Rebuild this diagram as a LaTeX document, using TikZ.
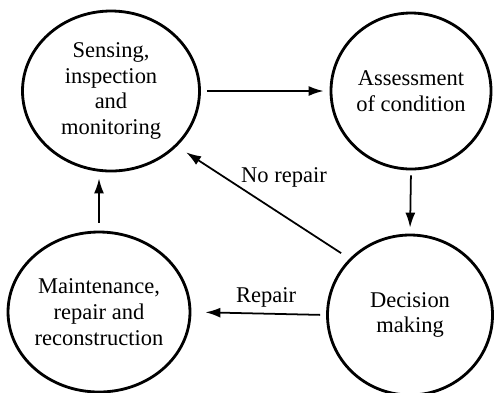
\documentclass[tikz,border=0pt]{standalone}
\usepackage{fontspec}
\setmainfont{Liberation Serif}
\usetikzlibrary{positioning,shapes.geometric,arrows.meta}

\begin{document}
\begin{tikzpicture}[
  x=1cm, y=1cm,
  every node/.style={font=\fontsize{12.8}{14.6}\selectfont},
  etat/.style={draw, ellipse, line width=1.6pt, inner sep=0pt, align=center},
  lbl/.style={font=\fontsize{12.8}{14.6}\selectfont},
  fl/.style={-{Latex[length=0.3cm,width=0.2cm]}, line width=1pt}
]
\useasboundingbox (0,0) rectangle (9.88,-7.84);

\node[etat, minimum width=3.54cm, minimum height=3.2cm] (sense)  at (2.22,-1.82) {Sensing,\\inspection\\and\\monitoring};
\node[etat, minimum width=3.2cm,  minimum height=3.12cm] (assess) at (8.22,-1.82) {Assessment\\of condition};
\node[etat, minimum width=3.3cm,  minimum height=3.2cm] (decide) at (8.2,-6.3)   {Decision\\making};
\node[etat, minimum width=3.36cm, minimum height=3.2cm] (maint)  at (1.98,-6.24) {Maintenance,\\repair and\\reconstruction};

\draw[fl, shorten <=0.12cm, shorten >=0.12cm] (sense.east) -- (assess.west);
\draw[fl, shorten <=0.1cm, shorten >=0.12cm] (assess.south) -- (decide.north);
\draw[fl, shorten <=0.2cm, shorten >=0.22cm] (decide.137) -- (sense.-40);
\draw[fl, shorten <=0.12cm, shorten >=0.28cm] (decide.west) -- (maint.east);
\draw[fl, shorten <=0.16cm, shorten >=0.12cm] (maint.north) -- (maint.north |- sense.south);

\node[lbl] (nonrep) at (5.68,-3.54) {No repair};
\node[lbl] (rep)    at (5.32,-5.94) {Repair};

\end{tikzpicture}
\end{document}
